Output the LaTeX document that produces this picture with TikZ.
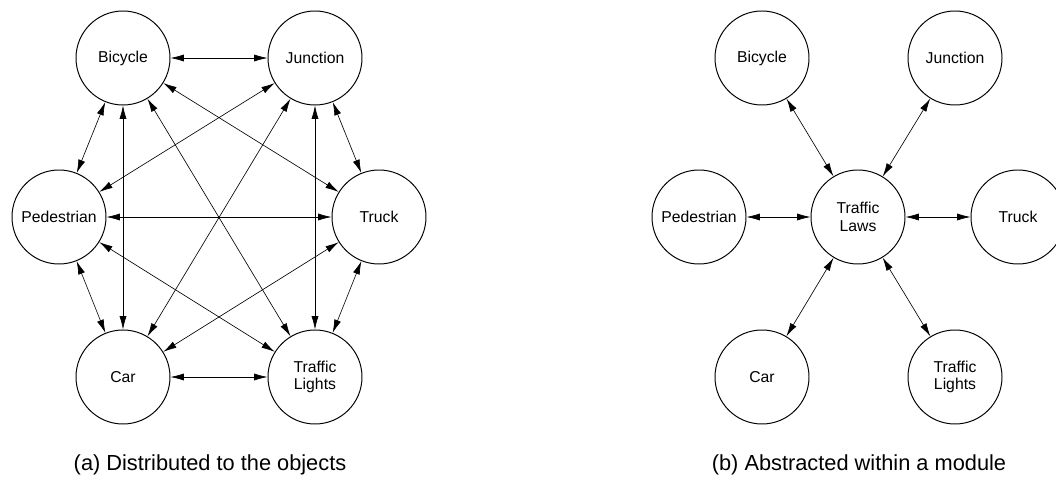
\documentclass[tikz,border=0pt]{standalone}
\usepackage{fontspec}
\setmainfont{Liberation Sans}
\usetikzlibrary{arrows.meta}

\begin{document}
\begin{tikzpicture}[
    obj/.style={circle, draw, line width=0.7pt, minimum size=2.35cm, inner sep=0pt,
                align=center, font=\fontsize{11.2}{12.5}\selectfont},
    link/.style={{Latex[length=9.5pt,width=5pt]}-{Latex[length=9.5pt,width=5pt]}, line width=0.45pt},
    caption/.style={font=\fontsize{15.5}{18}\selectfont}
]
\useasboundingbox (0,0) rectangle (26.4,12.5);

% left: every object talks to every other one
\node[obj] (bike) at (3.075,11.05) {Bicycle};
\node[obj] (junc) at (7.875,11.05) {Junction};
\node[obj] (ped) at (1.475,7.075) {Pedestrian};
\node[obj] (truck) at (9.475,7.075) {Truck};
\node[obj] (car) at (3.075,3.075) {Car};
\node[obj] (lights) at (7.875,3.075) {Traffic\\Lights};

\draw[link] (bike) -- (junc);
\draw[link] (bike) -- (ped);
\draw[link] (bike) -- (car);
\draw[link] (bike) -- (truck);
\draw[link] (bike) -- (lights);
\draw[link] (junc) -- (ped);
\draw[link] (junc) -- (car);
\draw[link] (junc) -- (truck);
\draw[link] (junc) -- (lights);
\draw[link] (ped) -- (truck);
\draw[link] (ped) -- (car);
\draw[link] (ped) -- (lights);
\draw[link] (truck) -- (car);
\draw[link] (truck) -- (lights);
\draw[link] (car) -- (lights);

\node[caption] (capa) at (5.25,0.875) {(a) Distributed to the objects};

% right: one module in the middle
\node[obj] (rbike) at (19.05,11.05) {Bicycle};
\node[obj] (rjunc) at (23.875,11.05) {Junction};
\node[obj] (rped) at (17.475,7.075) {Pedestrian};
\node[obj] (laws) at (21.45,7.075) {Traffic\\Laws};
\node[obj] (rtruck) at (25.45,7.075) {Truck};
\node[obj] (rcar) at (19.05,3.075) {Car};
\node[obj] (rlights) at (23.875,3.075) {Traffic\\Lights};

\draw[link] (laws) -- (rbike);
\draw[link] (laws) -- (rjunc);
\draw[link] (laws) -- (rped);
\draw[link] (laws) -- (rtruck);
\draw[link] (laws) -- (rcar);
\draw[link] (laws) -- (rlights);

\node[caption] (capb) at (21.475,0.875) {(b) Abstracted within a module};
\end{tikzpicture}
\end{document}
